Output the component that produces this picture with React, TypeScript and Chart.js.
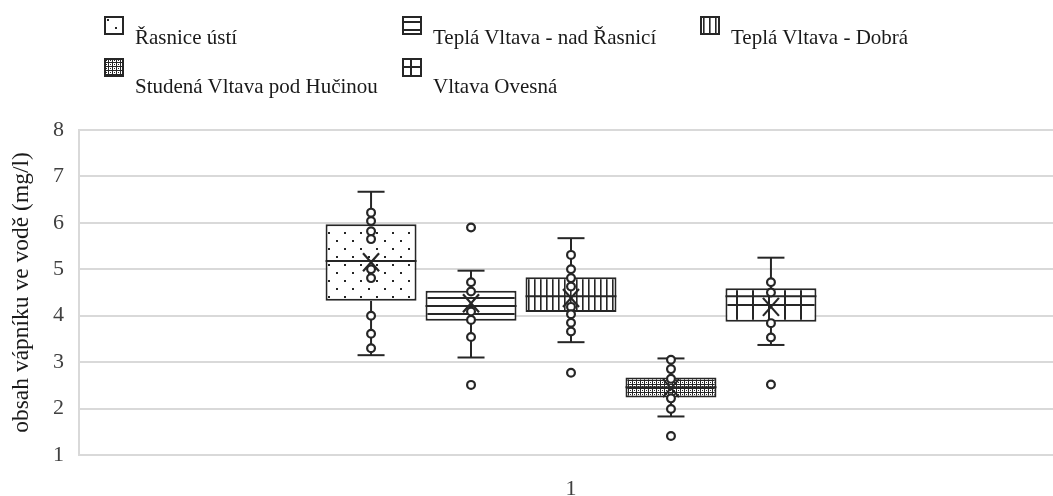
import React, { useEffect, useRef } from 'react';
import { Chart, registerables } from 'chart.js';

Chart.register(...registerables);

// ---------- data ----------
const categories = ['1'];
const seriesNames = [
  'Řasnice ústí',
  'Teplá Vltava - nad Řasnicí',
  'Teplá Vltava - Dobrá',
  'Studená Vltava pod Hučinou',
  'Vltava Ovesná',
];
const q1Values = [4.32, 3.89, 4.08, 2.24, 3.87];
const q3Values = [5.97, 4.54, 4.83, 2.67, 4.59];
const medianValues = [5.18, 4.21, 4.42, 2.46, 4.42];
const meanValues = [5.15, 4.27, 4.38, 2.44, 4.19];
const whiskerMinValues = [3.15, 3.1, 3.43, 1.83, 3.37];
const whiskerMaxValues = [6.67, 4.97, 5.67, 3.08, 5.25];
const pointsRasnice = [6.22, 6.04, 5.82, 5.65, 5.0, 4.81, 4.0, 3.61, 3.3];
const pointsTeplaNad = [5.9, 4.72, 4.52, 4.09, 3.91, 3.54, 2.51];
const pointsTeplaDobra = [5.31, 5.0, 4.81, 4.63, 4.19, 4.03, 3.85, 3.66, 2.77];
const pointsStudena = [3.05, 2.85, 2.64, 2.22, 1.99, 1.41];
const pointsOvesna = [4.72, 4.5, 3.84, 3.53, 2.52];
const yTicks = [1, 2, 3, 4, 5, 6, 7, 8];
const yTitle = 'obsah vápníku ve vodě (mg/l)';

const pointSeries = [pointsRasnice, pointsTeplaNad, pointsTeplaDobra, pointsStudena, pointsOvesna];
const patternKinds = ['dots', 'hlines', 'vlines', 'checker', 'grid'];

// ---------- styles ----------
const INK = '#262626';
const GRID = '#d9d9d9';
const FONT = 'Liberation Serif';
const TEXT = '#404040';

function makePattern(kind: string, shift = 0): CanvasPattern {
  const sizes: Record<string, number> = { dots: 16, hlines: 8, vlines: 6, checker: 4, grid: 16 };
  const size = sizes[kind];
  const c = document.createElement('canvas');
  c.width = size;
  c.height = size;
  const g = c.getContext('2d')!;
  g.fillStyle = '#ffffff';
  g.fillRect(0, 0, size, size);
  g.fillStyle = INK;
  const s = shift % size;
  if (kind === 'dots') {
    g.fillRect((0 + s) % size, (0 + s) % size, 2, 2);
    g.fillRect((8 + s) % size, (8 + s) % size, 2, 2);
  } else if (kind === 'hlines') {
    g.fillRect(0, (1 + s) % size, 8, 2);
  } else if (kind === 'vlines') {
    g.fillRect((0 + s) % size, 0, 1.6, 6);
  } else if (kind === 'checker') {
    g.fillRect(0, 0, 4, 1);
    g.fillRect(0, 0, 1, 4);
    g.fillRect(2, 2, 1, 1);
  } else if (kind === 'grid') {
    g.fillRect(0, s, 16, 2);
    g.fillRect(s, 0, 2, 16);
  }
  return g.createPattern(c, 'repeat')!;
}

const boxDetailsPlugin = {
  id: 'boxDetails',
  afterDatasetsDraw(chart: any) {
    const ctx: CanvasRenderingContext2D = chart.ctx;
    const ys = chart.scales.y;
    chart.data.datasets.forEach((_ds: any, i: number) => {
      const bar = chart.getDatasetMeta(i).data[0];
      if (!bar) return;
      const x = bar.x;
      const w = bar.width;
      const py = (v: number) => ys.getPixelForValue(v);
      ctx.save();
      ctx.strokeStyle = INK;
      ctx.lineWidth = 2;
      ctx.lineCap = 'butt';
      const seg = (x1: number, y1: number, x2: number, y2: number) => {
        ctx.beginPath();
        ctx.moveTo(x1, y1);
        ctx.lineTo(x2, y2);
        ctx.stroke();
      };
      // median
      const ym = py(medianValues[i]);
      seg(x - w / 2, ym, x + w / 2, ym);
      // whiskers
      const yq1 = py(q1Values[i]);
      const yq3 = py(q3Values[i]);
      const ymax = py(whiskerMaxValues[i]);
      const ymin = py(whiskerMinValues[i]);
      const cap = 13.5;
      seg(x, yq3, x, ymax);
      seg(x - cap, ymax, x + cap, ymax);
      seg(x, yq1, x, ymin);
      seg(x - cap, ymin, x + cap, ymin);
      // points
      ctx.lineWidth = 2.2;
      pointSeries[i].forEach((v) => {
        ctx.beginPath();
        ctx.arc(x, py(v), 3.9, 0, Math.PI * 2);
        ctx.fillStyle = '#ffffff';
        ctx.fill();
        ctx.stroke();
      });
      // mean marker
      const yMean = py(meanValues[i]);
      ctx.lineWidth = 2.2;
      seg(x - 8, yMean - 9, x + 8, yMean + 9);
      seg(x - 8, yMean + 9, x + 8, yMean - 9);
      ctx.restore();
    });
  },
};

const swatchShift: Record<string, number> = { dots: 3, hlines: 4, vlines: 3, checker: 0, grid: 8 };

function Swatch({ kind }: { kind: string }) {
  const ref = useRef<HTMLCanvasElement>(null);
  useEffect(() => {
    const c = ref.current;
    if (!c) return;
    const g = c.getContext('2d')!;
    g.clearRect(0, 0, c.width, c.height);
    g.fillStyle = makePattern(kind, swatchShift[kind]);
    g.fillRect(1, 1, 18, 17);
    g.strokeStyle = INK;
    g.lineWidth = 2;
    g.strokeRect(1, 1, 18, 17);
  }, [kind]);
  return <canvas ref={ref} width={20} height={19} style={{ display: 'block', width: 20, height: 19 }} />;
}

const legendCols = [104, 402, 700];
const legendRows = [16, 58];
const legendTextOffsets = [9, 16];

export default function App() {
  const canvasRef = useRef<HTMLCanvasElement>(null);

  useEffect(() => {
    const canvas = canvasRef.current;
    if (!canvas) return;
    const datasets = seriesNames.map((name, i) => ({
      label: name,
      data: categories.map(() => [q1Values[i], q3Values[i]] as [number, number]),
      backgroundColor: makePattern(patternKinds[i]),
      borderColor: INK,
      borderWidth: 2,
      borderSkipped: false as const,
      categoryPercentage: 0.508,
      barPercentage: 0.91,
    }));
    const chart = new Chart(canvas, {
      type: 'bar',
      data: { labels: categories, datasets },
      options: {
        animation: false,
        responsive: false,
        maintainAspectRatio: false,
        layout: { padding: { top: 130, left: 0, right: 0, bottom: 0 } },
        plugins: { legend: { display: false }, tooltip: { enabled: false } },
        scales: {
          x: {
            grid: { display: false, drawTicks: false },
            border: { display: true, color: GRID, width: 2 },
            ticks: { font: { family: FONT, size: 22 }, color: TEXT, padding: 21 },
            afterFit: (s: any) => {
              s.height = 41;
            },
          },
          y: {
            min: 1,
            max: 8,
            afterBuildTicks: (s: any) => {
              s.ticks = yTicks.map((v) => ({ value: v }));
            },
            grid: { color: GRID, lineWidth: 2, drawTicks: false },
            border: { display: true, color: GRID, width: 2 },
            ticks: { font: { family: FONT, size: 22 }, color: TEXT, padding: 15 },
            title: {
              display: true,
              text: yTitle,
              font: { family: FONT, size: 23.5 },
              color: '#1a1a1a',
              padding: { top: 8, bottom: 0 },
            },
            afterFit: (s: any) => {
              s.width = 79;
            },
          },
        },
      },
      plugins: [boxDetailsPlugin],
    });
    return () => chart.destroy();
  }, []);

  return (
    <div style={{ position: 'fixed', left: 0, top: 0, width: 1053, height: 496, overflow: 'hidden', background: '#fff' }}>
      <canvas ref={canvasRef} width={1063} height={496} style={{ position: 'absolute', left: 0, top: 0, width: 1063, height: 496 }} />
      {seriesNames.map((name, i) => {
        const col = legendCols[i % 3];
        const r = Math.floor(i / 3);
        const row = legendRows[r];
        return (
          <div key={name} style={{ position: 'absolute', left: col, top: row }}>
            <Swatch kind={patternKinds[i]} />
            <div
              style={{
                position: 'absolute',
                left: 31,
                top: legendTextOffsets[r],
                whiteSpace: 'nowrap',
                fontFamily: FONT,
                fontSize: 21,
                lineHeight: '24px',
                color: '#1a1a1a',
              }}
            >
              {name}
            </div>
          </div>
        );
      })}
    </div>
  );
}
